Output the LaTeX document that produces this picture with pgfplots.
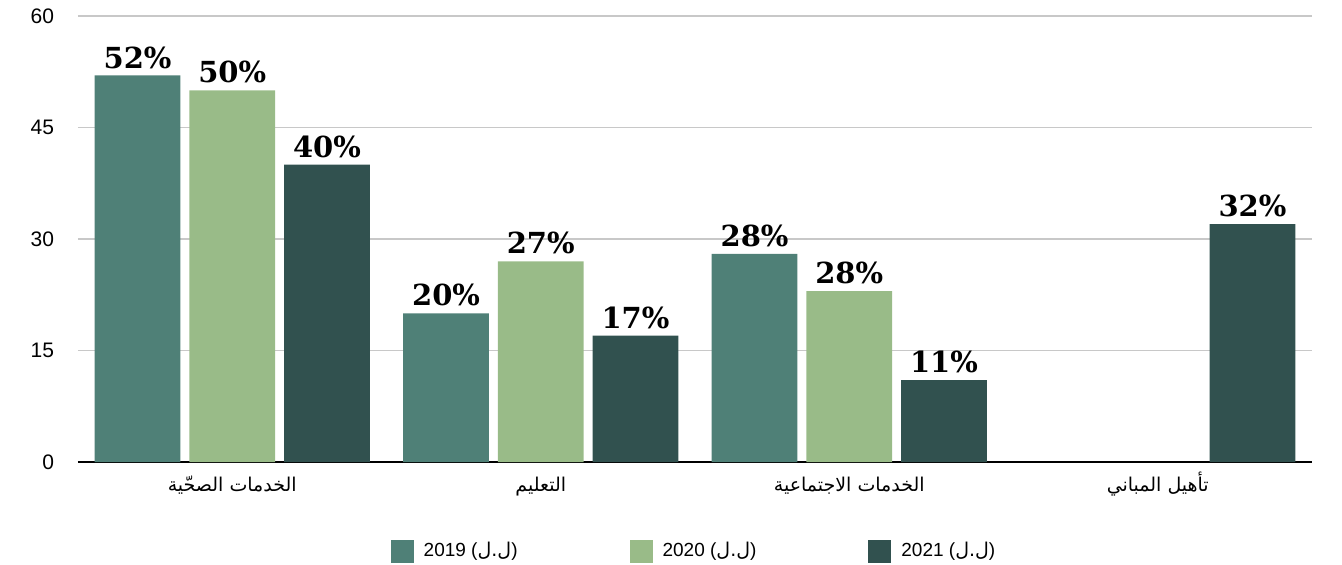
\documentclass[border=0pt]{standalone}
\usepackage{fontspec}
\setmainfont{Liberation Sans}
\newfontfamily\arabicfont[Script=Arabic]{DejaVu Sans}
\newfontfamily\valfont{DejaVu Serif}
\TeXXeTstate=1
\usepackage{pgfplots}
\pgfplotsset{compat=1.18}
\definecolor{cA}{RGB}{79,128,119}
\definecolor{cB}{RGB}{153,187,136}
\definecolor{cC}{RGB}{49,81,79}
\definecolor{gridc}{RGB}{200,200,200}
\begin{document}
\begin{tikzpicture}
\useasboundingbox (0,0) rectangle (671pt,282pt);
\begin{axis}[
  at={(39pt,51pt)}, anchor=south west,
  scale only axis, width=617pt, height=223pt,
  ybar, bar width=0.278,
  xmin=-0.5, xmax=3.5, ymin=0, ymax=60,
  ytick={0,15,30,45,60},
  xtick={0,1,2,3},
  xticklabels={{\beginR الخدمات الصحّية\endR},{\beginR التعليم\endR},{\beginR الخدمات الاجتماعية\endR},{\beginR تأهيل المباني\endR}},
  axis x line*=bottom, axis y line*=left,
  x axis line style={-, black, line width=1pt},
  y axis line style={draw=none},
  ymajorgrids, grid style={gridc, line width=0.6pt},
  major tick length=0pt, tick style={draw=none},
  xticklabel style={font=\arabicfont\fontsize{9.5}{11}\selectfont, anchor=base, yshift=-14.5pt},
  yticklabel style={font=\fontsize{10.5}{12}\selectfont, xshift=-8.5pt},
  /pgf/number format/assume math mode=true,
  nodes near coords, point meta=explicit symbolic,
  every node near coord/.append style={font=\valfont\bfseries\fontsize{14.5}{16}\selectfont, text=black},
  legend columns=3,
  legend style={draw=none, at={(0.5,-0.2)}, anchor=center, font=\fontsize{9.5}{11}\selectfont,
    /tikz/every odd column/.append style={column sep=3pt},
    /tikz/every even column/.append style={column sep=54pt}},
  legend image code/.code={\fill[#1,draw=none] (0pt,-5.75pt) rectangle (11.5pt,5.75pt);},
]
\addplot[fill=cA, draw=none, bar shift=-0.307] coordinates {(0,52) [52\%] (1,20) [20\%] (2,28) [28\%]};
\addlegendentry{2019 ({\arabicfont\beginR ل.ل\endR})}
\addplot[fill=cB, draw=none, bar shift=0] coordinates {(0,50) [50\%] (1,27) [27\%] (2,23) [28\%]};
\addlegendentry{2020 ({\arabicfont\beginR ل.ل\endR})}
\addplot[fill=cC, draw=none, bar shift=0.307] coordinates {(0,40) [40\%] (1,17) [17\%] (2,11) [11\%] (3,32) [32\%]};
\addlegendentry{2021 ({\arabicfont\beginR ل.ل\endR})}
\end{axis}
\end{tikzpicture}
\end{document}
